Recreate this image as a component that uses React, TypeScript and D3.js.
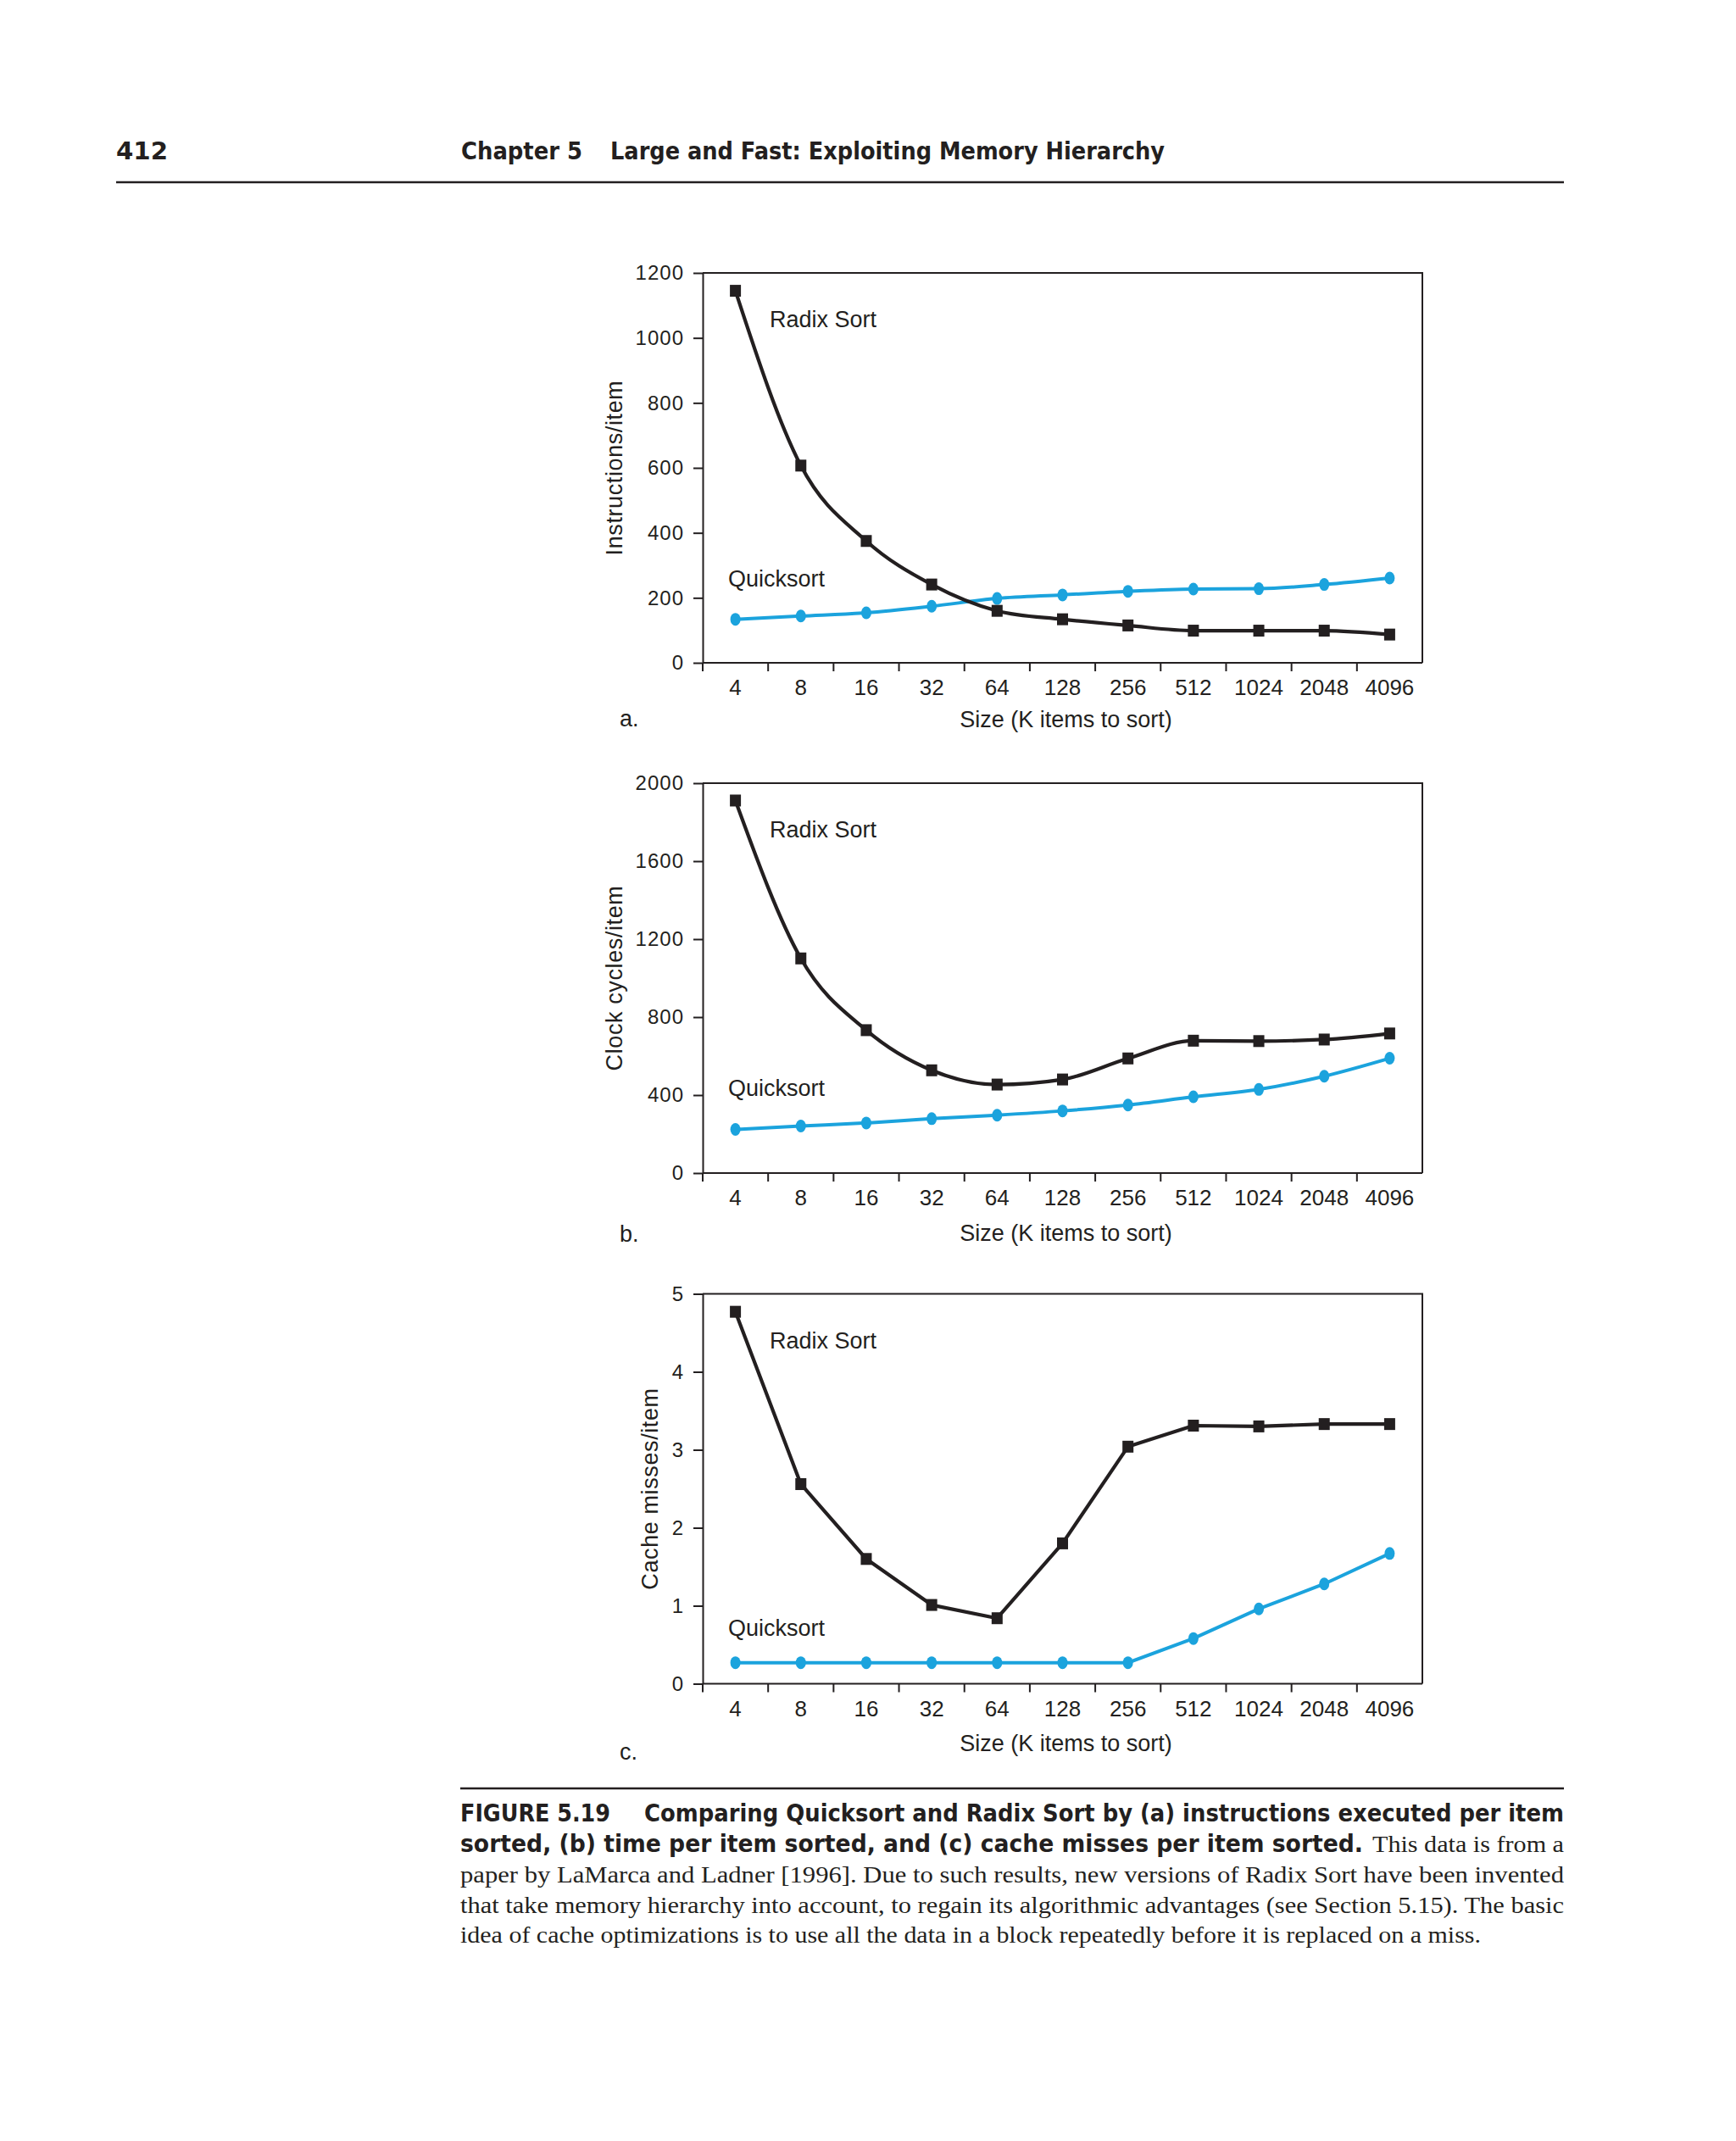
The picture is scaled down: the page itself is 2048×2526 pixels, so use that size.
import { useEffect, useRef } from 'react'
import * as d3 from 'd3'

// Size (K items to sort)
const sizes = ['4', '8', '16', '32', '64', '128', '256', '512', '1024', '2048', '4096']

// (a) instructions per item
const radixInstr = [1145, 607, 375, 241, 160, 134, 115, 99, 99, 99, 87]
const quickInstr = [134, 144, 154, 174, 198, 209, 220, 227, 228, 241, 261]
const ticksInstr = [0, 200, 400, 600, 800, 1000, 1200]

// (b) clock cycles per item
const radixCycles = [1911, 1101, 733, 527, 454, 480, 588, 679, 677, 685, 716]
const quickCycles = [224, 241, 257, 279, 297, 319, 349, 391, 429, 497, 589]
const ticksCycles = [0, 400, 800, 1200, 1600, 2000]

// (c) cache misses per item
const radixMisses = [4.77, 2.56, 1.6, 1.01, 0.84, 1.8, 3.04, 3.31, 3.3, 3.33, 3.33]
const quickMisses = [0.27, 0.27, 0.27, 0.27, 0.27, 0.27, 0.27, 0.58, 0.96, 1.28, 1.67]
const ticksMisses = [0, 1, 2, 3, 4, 5]

const captionLines = [
  'paper by LaMarca and Ladner [1996]. Due to such results, new versions of Radix Sort have been invented',
  'that take memory hierarchy into account, to regain its algorithmic advantages (see Section 5.15). The basic',
  'idea of cache optimizations is to use all the data in a block repeatedly before it is replaced on a miss.',
]

const INK = '#231f20'
const BLUE = '#1ba3dd'
const SANS = "'Liberation Sans', Arial, Helvetica, sans-serif"
const BOLD = "'Liberation Sans Narrow', 'DejaVu Sans Condensed', 'Liberation Sans', sans-serif"
const SERIF = "'Liberation Serif', 'Times New Roman', serif"

export default function App() {
  const svgRef = useRef<SVGSVGElement>(null)

  useEffect(() => {
    const svg = d3.select(svgRef.current)
    svg.selectAll('*').remove()

    const W = 2048
    const H = 2526
    svg.attr('width', W).attr('height', H)
    svg.append('rect').attr('width', W).attr('height', H).attr('fill', '#fff')

    // text squeezed/stretched to the measured span
    const fitText = (txt: string, x0: number, x1: number, y: number, family: string, size: number, weight = 'normal') =>
      svg
        .append('text')
        .attr('x', x0)
        .attr('y', y)
        .attr('textLength', x1 - x0)
        .attr('lengthAdjust', 'spacingAndGlyphs')
        .attr('fill', INK)
        .style('font-family', family)
        .style('font-size', `${size}px`)
        .style('font-weight', weight)
        .text(txt)

    // page header
    fitText('412', 137, 198, 188, BOLD, 29, '900')
    fitText('Chapter 5', 544, 687, 188, BOLD, 29, '900')
    fitText('Large and Fast: Exploiting Memory Hierarchy', 720, 1374, 188, BOLD, 29, '900')
    svg.append('line').attr('x1', 137).attr('x2', 1845).attr('y1', 215).attr('y2', 215)
      .attr('stroke', INK).attr('stroke-width', 2.5)

    // panels
    const panels = [
      { letter: 'a.', yTitle: 'Instructions/item', radix: radixInstr, quick: quickInstr, ticks: ticksInstr,
        curved: true, top: 322, titleX: 734, letterOff: 75, xTitleOff: 76, quickOff: 370 },
      { letter: 'b.', yTitle: 'Clock cycles/item', radix: radixCycles, quick: quickCycles, ticks: ticksCycles,
        curved: true, top: 924, titleX: 734, letterOff: 81, xTitleOff: 80, quickOff: 369 },
      { letter: 'c.', yTitle: 'Cache misses/item', radix: radixMisses, quick: quickMisses, ticks: ticksMisses,
        curved: false, top: 1526.5, titleX: 776, letterOff: 89, xTitleOff: 79, quickOff: 403 },
    ]

    const left = 829
    const right = 1678
    const plotH = 460

    panels.forEach((p) => {
      const bottom = p.top + plotH
      const x = d3.scaleBand<string>().domain(sizes).range([left, right]).padding(0)
      const cx = (d: string) => (x(d) ?? 0) + x.bandwidth() / 2
      const y = d3.scaleLinear().domain([0, p.ticks[p.ticks.length - 1]]).range([bottom, p.top])

      const g = svg.append('g')

      // frame (top + right)
      g.append('path')
        .attr('d', `M${left},${p.top}H${right}V${bottom}`)
        .attr('fill', 'none')
        .attr('stroke', INK)
        .attr('stroke-width', 2)

      // y axis
      g.append('g')
        .attr('transform', `translate(${left},0)`)
        .call(d3.axisLeft(y).tickValues(p.ticks).tickSize(11).tickSizeOuter(0).tickPadding(11).tickFormat((d) => `${d}`))
        .call((a) => {
          a.select('.domain').attr('stroke', INK).attr('stroke-width', 2)
          a.selectAll('.tick line').attr('stroke', INK).attr('stroke-width', 2)
          a.selectAll('.tick text')
            .attr('fill', INK)
            .style('font-family', SANS)
            .style('font-size', '24px')
            .style('letter-spacing', '1px')
        })

      // x axis
      g.append('line').attr('x1', left).attr('x2', right).attr('y1', bottom).attr('y2', bottom)
        .attr('stroke', INK).attr('stroke-width', 2)
      g.selectAll('.xtick')
        .data(sizes)
        .enter()
        .append('line')
        .attr('x1', (d) => x(d) ?? 0)
        .attr('x2', (d) => x(d) ?? 0)
        .attr('y1', bottom)
        .attr('y2', bottom + 10)
        .attr('stroke', INK)
        .attr('stroke-width', 2)
      g.selectAll('.xlab')
        .data(sizes)
        .enter()
        .append('text')
        .attr('x', cx)
        .attr('y', bottom + 38)
        .attr('text-anchor', 'middle')
        .attr('fill', INK)
        .style('font-family', SANS)
        .style('font-size', '26px')
        .text((d) => d)

      // axis titles
      g.append('text')
        .attr('x', (left + right) / 2 + 4)
        .attr('y', bottom + p.xTitleOff)
        .attr('text-anchor', 'middle')
        .attr('fill', INK)
        .style('font-family', SANS)
        .style('font-size', '27px')
        .text('Size (K items to sort)')
      g.append('text')
        .attr('transform', `translate(${p.titleX},${(p.top + bottom) / 2}) rotate(-90)`)
        .attr('text-anchor', 'middle')
        .attr('fill', INK)
        .style('font-family', SANS)
        .style('font-size', '27px')
        .style('letter-spacing', '0.6px')
        .text(p.yTitle)
      g.append('text')
        .attr('x', 731)
        .attr('y', bottom + p.letterOff)
        .attr('fill', INK)
        .style('font-family', SANS)
        .style('font-size', '27px')
        .text(p.letter)

      // series
      const line = d3
        .line<number>()
        .x((_, i) => cx(sizes[i]))
        .y((v) => y(v))
        .curve(p.curved ? d3.curveMonotoneX : d3.curveLinear)

      g.append('path')
        .datum(p.quick)
        .attr('fill', 'none')
        .attr('stroke', BLUE)
        .attr('stroke-width', 4)
        .attr('d', line)
      g.selectAll('.qdot')
        .data(p.quick)
        .enter()
        .append('ellipse')
        .attr('cx', (_, i) => cx(sizes[i]))
        .attr('cy', (v) => y(v))
        .attr('rx', 6)
        .attr('ry', 7.5)
        .attr('fill', BLUE)

      g.append('path')
        .datum(p.radix)
        .attr('fill', 'none')
        .attr('stroke', INK)
        .attr('stroke-width', 4.2)
        .attr('stroke-linejoin', 'round')
        .attr('d', line)
      g.selectAll('.rdot')
        .data(p.radix)
        .enter()
        .append('rect')
        .attr('x', (_, i) => cx(sizes[i]) - 6.5)
        .attr('y', (v) => y(v) - 7)
        .attr('width', 13)
        .attr('height', 14)
        .attr('fill', INK)

      // series labels
      g.append('text')
        .attr('x', 908)
        .attr('y', p.top + 64)
        .attr('fill', INK)
        .style('font-family', SANS)
        .style('font-size', '27px')
        .text('Radix Sort')
      g.append('text')
        .attr('x', 859)
        .attr('y', p.top + p.quickOff)
        .attr('fill', INK)
        .style('font-family', SANS)
        .style('font-size', '27px')
        .text('Quicksort')
    })

    // caption
    svg.append('line').attr('x1', 543).attr('x2', 1845).attr('y1', 2110).attr('y2', 2110)
      .attr('stroke', INK).attr('stroke-width', 2.5)
    fitText('FIGURE 5.19', 543, 720, 2149, BOLD, 28, '900')
    fitText('Comparing Quicksort and Radix Sort by (a) instructions executed per item', 760, 1845, 2149, BOLD, 28, '900')
    fitText('sorted, (b) time per item sorted, and (c) cache misses per item sorted.', 543, 1608, 2185, BOLD, 28, '900')
    fitText('This data is from a', 1619, 1845, 2185, SERIF, 28)
    const ends = [1845, 1845, 1747]
    captionLines.forEach((txt, i) => fitText(txt, 543, ends[i], 2221 + i * 35.5, SERIF, 28))
  }, [])

  return (
    <div style={{ position: 'absolute', left: 0, top: 0 }}>
      <svg ref={svgRef} style={{ display: 'block' }} />
    </div>
  )
}
